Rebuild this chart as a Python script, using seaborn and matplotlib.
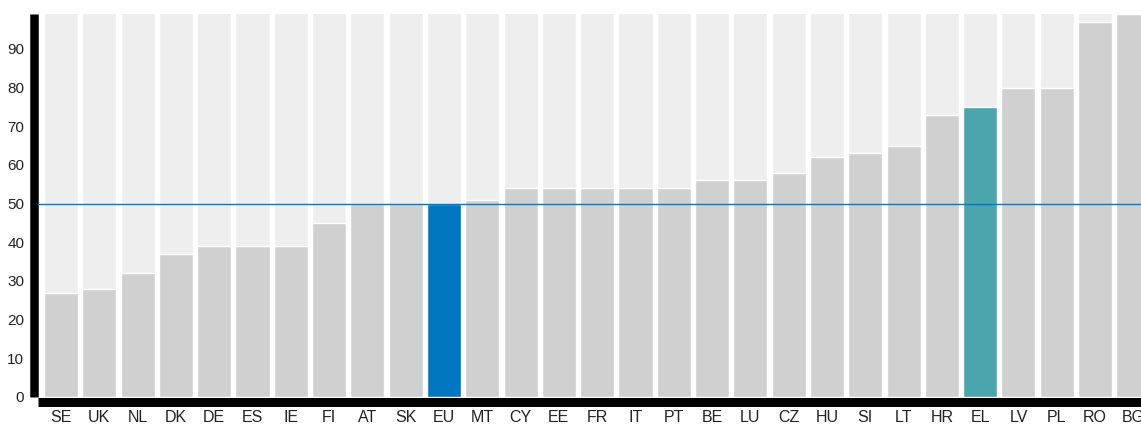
import matplotlib
matplotlib.use("Agg")
import matplotlib.pyplot as plt
import seaborn as sns
import pandas as pd

countries = ["SE", "UK", "NL", "DK", "DE", "ES", "IE", "FI", "AT", "SK", "EU", "MT",
             "CY", "EE", "FR", "IT", "PT", "BE", "LU", "CZ", "HU", "SI", "LT", "HR",
             "EL", "LV", "PL", "RO", "BG"]
values = [27, 28, 32, 37, 39, 39, 39, 45, 50, 50, 50, 51,
          54, 54, 54, 54, 54, 56, 56, 58, 62, 63, 65, 73,
          75, 80, 80, 97, 99]
background = [100] * len(countries)
reference_value = 50
yticks = [0, 10, 20, 30, 40, 50, 60, 70, 80, 90]

highlight = {"EU": "#0077c0", "EL": "#4aa5ac"}
bar_grey = "#d0d0d0"
bg_grey = "#eeeeee"

df = pd.DataFrame({"country": countries, "value": values, "bg": background})
palette = {c: highlight.get(c, bar_grey) for c in countries}

sns.set_style("white")
plt.rcParams["font.family"] = ["Liberation Sans", "DejaVu Sans"]

fig = plt.figure(figsize=(11.41, 4.24), dpi=100)
ax = fig.add_axes([38 / 1141, 27 / 424, 1 - 38 / 1141, 383 / 424])

sns.barplot(data=df, x="country", y="bg", color=bg_grey, width=0.89,
            saturation=1, ax=ax, zorder=1)
sns.barplot(data=df, x="country", y="value", hue="country", palette=palette,
            legend=False, width=0.89, saturation=1, ax=ax, zorder=2)

ax.axhline(reference_value, color="#0077c0", lw=1.0, zorder=3)

ax.set_xlim(-0.6, 28.2)
ax.set_ylim(0, 99)
ax.set_yticks(yticks)
ax.set_xlabel("")
ax.set_ylabel("")

for s in ["top", "right"]:
    ax.spines[s].set_visible(False)
ax.spines["left"].set_position(("outward", 4 * 0.72))
ax.spines["left"].set_linewidth(8.5 * 0.72)
ax.spines["left"].set_color("black")
ax.spines["left"].set_capstyle("butt")
ax.spines["bottom"].set_position(("outward", 4.5 * 0.72))
ax.spines["bottom"].set_linewidth(9 * 0.72)
ax.spines["bottom"].set_color("black")
ax.spines["bottom"].set_capstyle("butt")

ax.tick_params(axis="y", length=0, pad=7, labelsize=11, labelcolor="#222222")
ax.tick_params(axis="x", length=0, pad=6, labelsize=11.5, labelcolor="#222222")

fig.savefig("out.png", dpi=100)
